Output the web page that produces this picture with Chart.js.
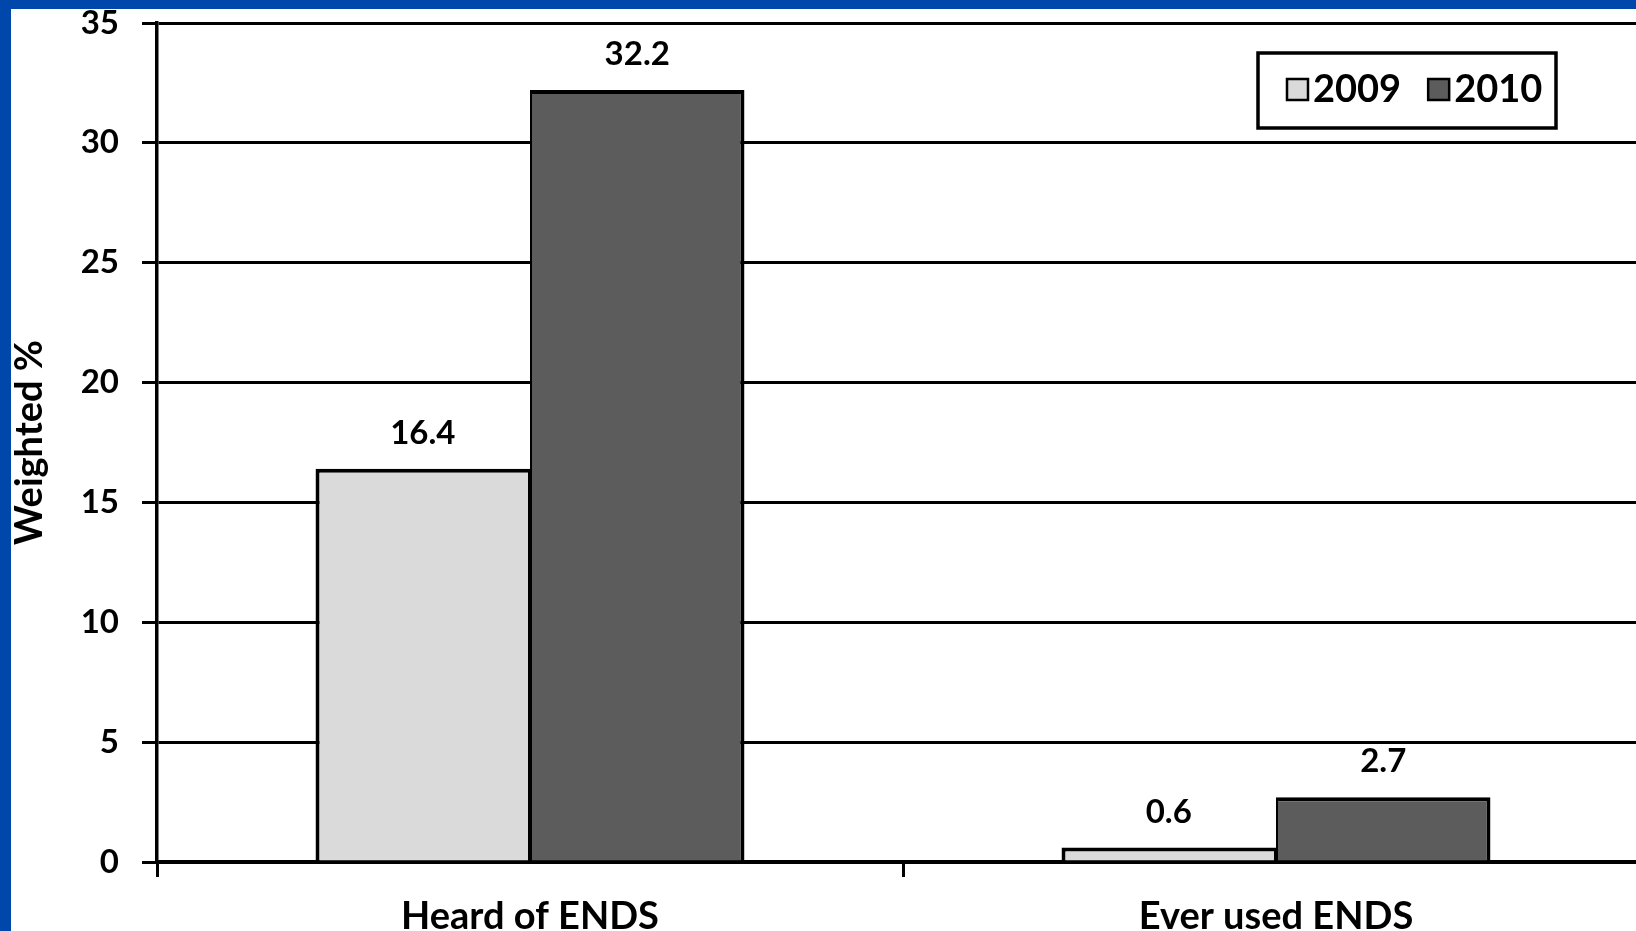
<!DOCTYPE html>
<html>
<head>
<meta charset="utf-8">
<script src="https://cdn.jsdelivr.net/npm/chart.js@4.4.0/dist/chart.umd.min.js"></script>
<style>
  html, body { margin: 0; padding: 0; }
  body { width: 1636px; height: 931px; background: #0047ab; overflow: hidden; position: relative; }
  #frame { position: absolute; left: 11px; top: 9px; width: 1625px; height: 922px; background: #fff; overflow: hidden; }
  #chart { position: absolute; left: 0; top: -30px; }
</style>
</head>
<body>
<div id="frame"><canvas id="chart" width="1640" height="980"></canvas></div>
<script>
const categories = ['Heard of ENDS', 'Ever used ENDS'];
const seriesNames = ['2009', '2010'];
const values2009 = [16.4, 0.6];
const values2010 = [32.2, 2.7];
const yTicks = [0, 5, 10, 15, 20, 25, 30, 35];
const seriesColors = ['#dadada', '#5c5c5c'];

const FONT = 'Lato';

// numbers on top of each bar
const valueLabels = {
  id: 'valueLabels',
  afterDatasetsDraw(chart) {
    const ctx = chart.ctx;
    ctx.save();
    ctx.font = 'bold 33px ' + FONT;
    ctx.fillStyle = '#000';
    ctx.textAlign = 'center';
    ctx.textBaseline = 'alphabetic';
    chart.data.datasets.forEach((ds, i) => {
      chart.getDatasetMeta(i).data.forEach((bar, j) => {
        ctx.fillText(ds.data[j].toFixed(1), bar.x, bar.y - 25);
      });
    });
    ctx.restore();
  }
};

// excel style legend with a frame round it
const boxedLegend = {
  id: 'boxedLegend',
  afterDraw(chart) {
    const ctx = chart.ctx;
    const box = { x: 1247, y: 74, w: 298, h: 75 };
    ctx.save();
    ctx.fillStyle = '#fff';
    ctx.fillRect(box.x, box.y, box.w, box.h);
    ctx.lineWidth = 3.5;
    ctx.strokeStyle = '#000';
    ctx.strokeRect(box.x, box.y, box.w, box.h);
    ctx.font = 'bold 38px ' + FONT;
    ctx.textBaseline = 'alphabetic';
    let x = box.x + 29;
    chart.data.datasets.forEach(ds => {
      ctx.fillStyle = ds.backgroundColor;
      ctx.fillRect(x, 100, 21, 21);
      ctx.lineWidth = 2.5;
      ctx.strokeRect(x, 100, 21, 21);
      ctx.fillStyle = '#000';
      ctx.fillText(ds.label, x + 26, 123);
      x += 26 + ctx.measureText(ds.label).width + 27;
    });
    ctx.restore();
  }
};

new Chart(document.getElementById('chart'), {
  type: 'bar',
  data: {
    labels: categories,
    datasets: [
      { label: seriesNames[0], data: values2009, backgroundColor: seriesColors[0],
        borderWidth: { top: 4, left: 4, right: 2, bottom: 0 } },
      { label: seriesNames[1], data: values2010, backgroundColor: seriesColors[1],
        borderWidth: { top: 4, left: 2, right: 4, bottom: 0 } }
    ].map(ds => Object.assign(ds, {
      borderColor: '#000',
      borderSkipped: false,
      categoryPercentage: 0.575,
      barPercentage: 1
    }))
  },
  options: {
    responsive: false,
    animation: false,
    layout: { padding: { top: 44, right: 2, bottom: 0, left: 0 } },
    plugins: {
      legend: { display: false },
      tooltip: { enabled: false }
    },
    scales: {
      x: {
        offset: true,
        grid: { display: true, drawOnChartArea: false, drawTicks: true, tickLength: 15, color: '#000', lineWidth: 3, offset: true },
        border: { display: true, color: '#000', width: 3.5 },
        ticks: { color: '#000', font: { family: FONT, size: 38, weight: 'bold' }, padding: 17, maxRotation: 0, autoSkip: false },
        afterFit(scale) { scale.height = 97; }
      },
      y: {
        min: 0,
        max: 35,
        afterBuildTicks(scale) { scale.ticks = yTicks.map(v => ({ value: v })); },
        grid: { color: '#000', lineWidth: 3, tickLength: 15, drawTicks: true },
        border: { display: true, color: '#000', width: 3.5 },
        ticks: { color: '#000', font: { family: FONT, size: 33, weight: 'bold' }, padding: 23 },
        title: { display: true, text: 'Weighted %', color: '#000', font: { family: FONT, size: 38, weight: 'bold', lineHeight: 1 }, padding: 0 },
        afterFit(scale) { scale.width = 146; }
      }
    }
  },
  plugins: [valueLabels, boxedLegend]
});
</script>
</body>
</html>
